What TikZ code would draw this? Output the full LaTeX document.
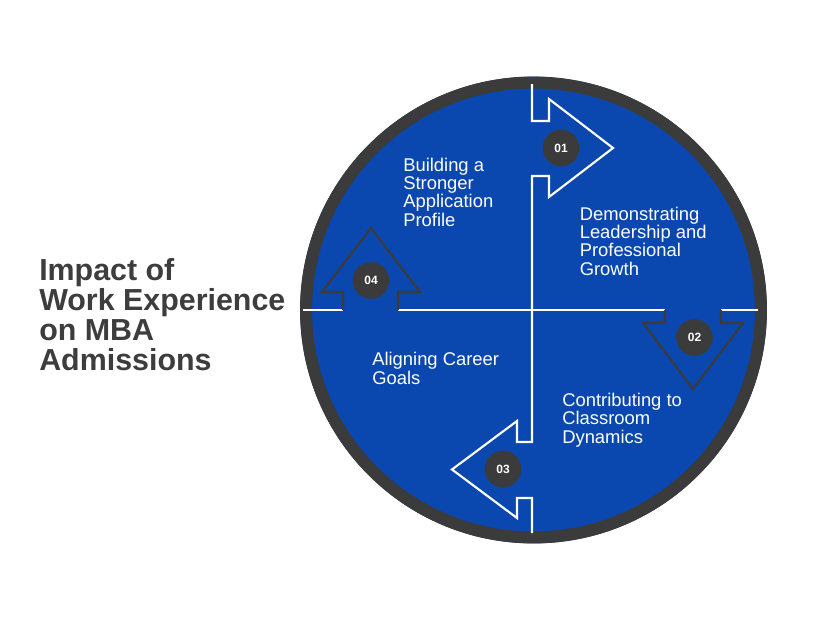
\documentclass[tikz,border=0pt]{standalone}
\usepackage{fontspec}
\setmainfont{Liberation Sans}
\definecolor{discblue}{HTML}{0A47AE}
\definecolor{ringgray}{HTML}{3B3B3B}
\definecolor{titlegray}{HTML}{3D3D3D}
\begin{document}
\begin{tikzpicture}[x=0.75pt,y=-0.75pt,
  whiteline/.style={draw=white,line width=1.6pt,line join=miter},
  darkline/.style={draw=ringgray,line width=1.6pt,line join=miter},
  badge/.style={circle,fill=ringgray,minimum size=27.5pt,inner sep=0pt,text=white,font=\bfseries\fontsize{9}{10}\selectfont},
  bodytext/.style={text=white,align=left,anchor=base west,inner sep=0pt,font=\fontsize{13.8}{13.7}\selectfont},
  titletext/.style={text=titlegray,align=left,anchor=base west,inner sep=0pt,font=\bfseries\fontsize{22.8}{22.5}\selectfont}]
\useasboundingbox[fill=white] (0,0) rectangle (828,621);
% disc and ring
\coordinate (c) at (533.5,310);
\fill[discblue] (c) circle[radius=175pt];
\draw[ringgray,line width=9pt] (c) circle[radius=170.6pt];
% vertical white line with arrows 01 and 03
\draw[whiteline] (532,84)--(532,121)--(549,121)--(549,99)--(613,148)--(549,197)--(549,176)--(532,176)
  --(532,442)--(517,442)--(517,421)--(452,469.5)--(517,518)--(517,498)--(532,498)--(532,533);
% horizontal white line segments
\draw[whiteline] (303,310)--(343,310);
\draw[whiteline] (398,310)--(665,310);
\draw[whiteline] (721,310)--(758,310);
% arrow 02 (down, dark)
\draw[darkline] (665,310)--(665,323)--(643,323)--(693,389)--(743,323)--(721,323)--(721,310);
% arrow 04 (up, dark)
\draw[darkline] (343,310)--(343,292)--(322,292)--(371,228)--(420,292)--(398,292)--(398,310);
% badges
\node[badge] (b1) at (561,148) {01};
\node[badge] (b2) at (694.5,337.5) {02};
\node[badge] (b3) at (503,469) {03};
\node[badge] (b4) at (371,280.5) {04};
% texts (anchored at the baseline of the last line)
\node[bodytext] (t1) at (403,226) {Building a\\Stronger\\Application\\Profile};
\node[bodytext] (t2) at (579.5,275) {Demonstrating\\Leadership and\\Professional\\Growth};
\node[bodytext] (t3) at (372,384) {Aligning Career\\Goals};
\node[bodytext] (t4) at (562,443) {Contributing to\\Classroom\\Dynamics};
\node[titletext] (title) at (39,370) {Impact of\\Work Experience\\on MBA\\Admissions};
\end{tikzpicture}
\end{document}
